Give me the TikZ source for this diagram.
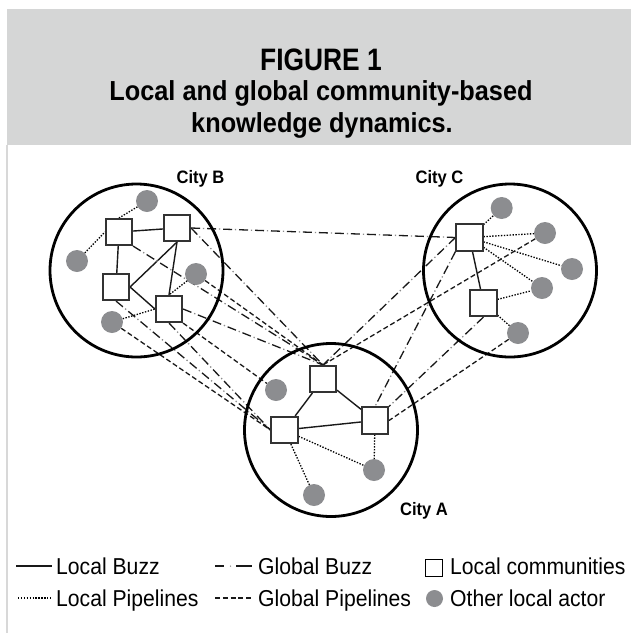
\documentclass[tikz,border=0pt]{standalone}
\usepackage{fontspec}
\setmainfont{Liberation Sans}[FakeStretch=0.92]
\newfontfamily\titlefont{Liberation Sans}[FakeStretch=0.85]
\usetikzlibrary{backgrounds}
\definecolor{headgray}{RGB}{213,214,214}
\definecolor{rulegray}{RGB}{216,216,216}
\definecolor{dotgray}{RGB}{140,141,144}
\tikzset{
  comm/.style={draw=black!80, line width=1.6pt, fill=white, minimum size=26.5pt, inner sep=0pt},
  actor/.style={circle, fill=dotgray, minimum size=22pt, inner sep=0pt},
  city/.style={circle, draw=black, line width=2.8pt, minimum size=173pt, inner sep=0pt},
  citylabel/.style={font=\bfseries\fontsize{18pt}{20pt}\selectfont, anchor=base},
  lbuzz/.style={draw=black!90, line width=1.4pt},
  lpipe/.style={draw=black, line width=1.3pt, dash pattern=on 1.4pt off 1.5pt},
  gpipe/.style={draw=black!90, line width=1.3pt, dash pattern=on 5pt off 2.8pt},
  gbuzz/.style={draw=black!90, line width=1.3pt, dash pattern=on 9pt off 7pt,
    postaction={draw=black!45, line width=1.3pt, dash pattern=on 1.3pt off 14.7pt, dash phase=4.1pt}},
  legtext/.style={font=\fontsize{23pt}{26pt}\selectfont, anchor=base west, inner sep=0pt},
  titletext/.style={anchor=base, inner sep=0pt}
}
\begin{document}
\begin{tikzpicture}[x=1pt,y=-1pt]
\useasboundingbox (0,0) rectangle (631,633);
% header
\fill[headgray] (7,9) rectangle (631,145);
\draw[rulegray, line width=1.5pt] (7,145) -- (7,633);
\node[titletext, font=\titlefont\bfseries\fontsize{31pt}{34pt}\selectfont] (t1) at (321,70) {FIGURE 1};
\node[titletext, font=\bfseries\fontsize{27.5pt}{30pt}\selectfont] (t2) at (321,100) {Local and global community-based};
\node[titletext, font=\bfseries\fontsize{27.5pt}{30pt}\selectfont] (t3) at (322,132) {knowledge dynamics.};

% cities
\node[city] (cityB) at (136.5,270.5) {};
\node[city] (cityC) at (510,270.5) {};
\node[city] (cityA) at (331,430) {};
\node[citylabel] (labB) at (200.5,183) {City B};
\node[citylabel] (labC) at (439.5,183) {City C};
\node[citylabel] (labA) at (424,515) {City A};

% local communities
\node[comm] (B1) at (119,232) {};
\node[comm] (B2) at (177,228) {};
\node[comm] (B3) at (116,287) {};
\node[comm] (B4) at (169,309) {};
\node[comm] (C1) at (469.5,237.5) {};
\node[comm] (C2) at (483.5,303) {};
\node[comm] (A1) at (323,379) {};
\node[comm] (A2) at (284.5,430) {};
\node[comm] (A3) at (375,420.5) {};

% other local actors
\node[actor] (Bd1) at (147,201) {};
\node[actor] (Bd2) at (77,261) {};
\node[actor] (Bd3) at (196,274) {};
\node[actor] (Bd4) at (112,322) {};
\node[actor] (Cd1) at (501.7,208) {};
\node[actor] (Cd2) at (545,233) {};
\node[actor] (Cd3) at (572,269) {};
\node[actor] (Cd4) at (542,288) {};
\node[actor] (Cd5) at (518,333) {};
\node[actor] (Ad1) at (276,390) {};
\node[actor] (Ad2) at (374,470) {};
\node[actor] (Ad3) at (314,495) {};

\begin{scope}[on background layer]
% local buzz
\draw[lbuzz] (B1) -- (B2);
\draw[lbuzz] (B1) -- (B3);
\draw[lbuzz] (B2.south) -- (B3.east);
\draw[lbuzz] (B2.south) -- (B4.north);
\draw[lbuzz] (B3.east) -- (B4.west);
\draw[lbuzz] (C1) -- (C2);
\draw[lbuzz] (A1) -- (A2);
\draw[lbuzz] (A1) -- (A3);
\draw[lbuzz] (A2) -- (A3);
% local pipelines
\draw[lpipe] (Bd1) -- (B1.north);
\draw[lpipe] (Bd2) -- (B1.west);
\draw[lpipe] (Bd3) -- (B4.north);
\draw[lpipe] (Bd4) -- (B4.west);
\draw[lpipe] (C1) -- (Cd1);
\draw[lpipe] (C1) -- (Cd2);
\draw[lpipe] (C1) -- (Cd3);
\draw[lpipe] (C1) -- (Cd4);
\draw[lpipe] (C2) -- (Cd4);
\draw[lpipe] (C2) -- (Cd5);
\draw[lpipe] (A2) -- (Ad2);
\draw[lpipe] (A2) -- (Ad3);
\draw[lpipe] (A3) -- (Ad2);
% global buzz
\draw[gbuzz] (B2.east) -- (C1.west);
\draw[gbuzz] (B2.east) -- (A1.north);
\draw[gbuzz] (B1.south east) -- (A1.north);
\draw[gbuzz] (B4.east) -- (A1.north);
\draw[gbuzz] (B4.south) -- (A2.west);
\draw[gbuzz] (B3.south) -- (A2.west);
\draw[gbuzz] (C1.west) -- (A1.north);
\draw[gbuzz] (C1.south west) -- (A3.north);
\draw[gbuzz] (C2.south) -- (A3.north east);
% global pipelines
\draw[gpipe] (Bd3) -- (A1.north);
\draw[gpipe] (B4.south east) -- (Ad1);
\draw[gpipe] (Bd4) -- (A2.west);
\draw[gpipe] (Cd2) -- (A1.north);
\draw[gpipe] (Cd5) -- (A3.east);
\end{scope}

% legend
\coordinate (l1a) at (16,566);  \coordinate (l1b) at (52,566);
\coordinate (l2a) at (18,598);  \coordinate (l2b) at (52,598);
\coordinate (l3a) at (215,566); \coordinate (l3b) at (252,566);
\coordinate (l4a) at (215,598); \coordinate (l4b) at (253,598);
\draw[lbuzz] (l1a) -- (l1b);
\draw[lpipe] (l2a) -- (l2b);
\draw[draw=black!90, line width=1.3pt, dash pattern=on 9pt off 12pt on 16pt off 10pt] (l3a) -- (l3b);
\fill[black!45] (230.5,566) circle (0.75pt);
\draw[gpipe] (l4a) -- (l4b);
\node[draw=black, line width=1pt, fill=white, minimum size=17pt, inner sep=0pt] (legsq) at (434,568) {};
\node[actor, minimum size=17pt] (legdot) at (434.5,598.5) {};
\node[legtext] (lt1) at (56,574.3) {Local Buzz};
\node[legtext] (lt2) at (56,606.3) {Local Pipelines};
\node[legtext] (lt3) at (258,574.3) {Global Buzz};
\node[legtext] (lt4) at (258,606.3) {Global Pipelines};
\node[legtext] (lt5) at (450,574.3) {Local communities};
\node[legtext] (lt6) at (450,606.3) {Other local actor};
\end{tikzpicture}
\end{document}
